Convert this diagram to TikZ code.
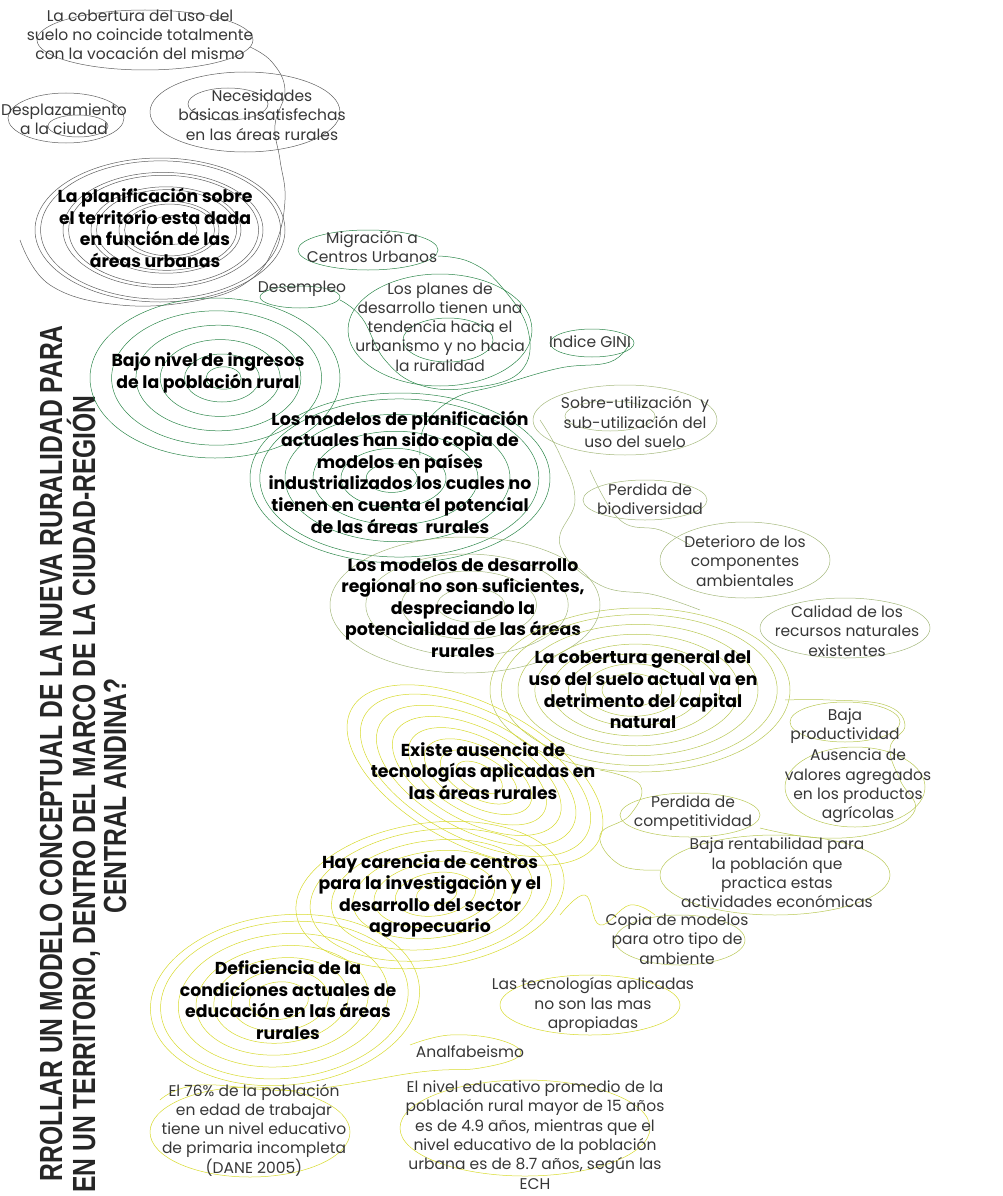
\documentclass[tikz,border=0pt]{standalone}
\usepackage{fontspec}
\setmainfont{Poppins}
\newfontfamily\titlefont[FakeStretch=0.77]{Liberation Sans}
\usetikzlibrary{positioning}
\definecolor{inkgray}{RGB}{55,55,55}
\definecolor{ringgray}{RGB}{95,95,95}
\definecolor{ringgreen}{RGB}{45,135,75}
\definecolor{ringsage}{RGB}{165,185,125}
\definecolor{ringlime}{RGB}{185,200,85}
\definecolor{ringyellow}{RGB}{215,218,45}
\tikzset{
  % ---- texts ------------------------------------------------------------
  note/.style={font=\fontsize{15.5}{19.3}\selectfont, text=inkgray,
               align=center, inner sep=0pt},
  topic/.style={font=\bfseries\fontsize{17.3}{21.6}\selectfont, text=black,
                align=center, inner sep=0pt},
  ttl/.style={font=\titlefont\bfseries\fontsize{32}{32}\selectfont,
              text=black!85, inner sep=0pt, rotate=90},
  % ---- contour lines ----------------------------------------------------
  contour/.style={line width=0.5pt},
}
% rings: [extra transform]{colour}{centre}{rx}{ry}{drift}{scales}
\newcommand{\ringset}[7][]{%
  \foreach \k in {#7} {\draw[contour, #2, shift={(#3)}, #1]
    ({(1-\k)*#6},0) ellipse ({#4*\k} and {#5*\k});}}

\begin{document}
\begin{tikzpicture}[x=1pt,y=-1pt]
\useasboundingbox (0,0) rectangle (1002,1196);

% ============================ title ========================================
\node[ttl, anchor=base east] (ttlA) at (62,325)
  {RROLLAR UN MODELO CONCEPTUAL DE LA NUEVA RURALIDAD PARA};
\node[ttl, anchor=base east] (ttlB) at (95,395)
  {EN UN TERRITORIO, DENTRO DEL MARCO DE LA CIUDAD-REGIÓN};
\node[ttl, anchor=base] (ttlC) at (126,796) {CENTRAL ANDINA?};

% ============================ grey zone ====================================
\draw[contour, ringgray] (145,40) ellipse (108 and 30);
\draw[contour, ringgray] plot[smooth, tension=0.7] coordinates
  {(250,47) (272,62) (285,90) (275,125) (280,160) (285,200) (275,245)
   (250,280) (200,300) (120,305) (50,285) (20,240)};
\draw[contour, ringgray] (66,118) ellipse (58 and 25);
\draw[contour, ringgray] (78,126) ellipse (30 and 11);
\draw[contour, ringgray] (245,112) ellipse (95 and 40);
\draw[contour, ringgray] (228,104) ellipse (40 and 16);
\ringset{ringgray}{160,230}{125}{72}{15}{1,0.96,0.8,0.76,0.6,0.56,0.4,0.36,0.2}

\node[note] (cobertura) at (140,35)
  {La cobertura del uso del\\ suelo no coincide totalmente\\ con la vocación del mismo};
\node[note] (desplaza) at (64,119) {Desplazamiento\\ a la ciudad};
\node[note] (necesidades) at (262,115)
  {Necesidades\\ básicas insatisfechas\\ en las áreas rurales};
\node[topic] (planifica) at (155,228)
  {La planificación sobre\\ el territorio esta dada\\ en función de las\\ áreas urbanas};

% ============================ green zone ===================================
\draw[contour, ringgreen] (368,250) ellipse (70 and 20);
\draw[contour, ringgreen] plot[smooth, tension=0.7] coordinates
  {(438,256) (470,262) (500,285) (528,330) (520,372) (470,388) (420,385)
   (385,360) (362,318) (340,300)};
\draw[contour, ringgreen] (300,297) ellipse (40 and 11);
\draw[contour, ringgreen] (440,330) ellipse (92 and 56);
\draw[contour, ringgreen] (448,340) ellipse (45 and 22);
\draw[contour, ringgreen] (592,343) ellipse (42 and 14);
\draw[contour, ringgreen] plot[smooth, tension=0.7] coordinates
  {(630,343) (610,362) (560,368) (500,385) (455,398) (425,425) (420,455)};
\ringset{ringgreen}{215,378}{125}{80}{10}{1,0.84,0.66,0.48,0.3,0.14}
\ringset{ringgreen}{400,478}{150}{85}{-10}{1,0.93,0.75,0.55,0.35,0.17}

\node[note] (migracion) at (372,247) {Migración a\\ Centros Urbanos};
\node[note] (desempleo) at (302,289) {Desempleo};
\node[note] (planes) at (440,327)
  {Los planes de\\ desarrollo tienen una\\ tendencia hacia el\\ urbanismo y no hacia\\ la ruralidad};
\node[note] (gini) at (590,342) {Indice GINI};
\node[topic] (ingresos) at (208,373)
  {Bajo nivel de ingresos\\ de la población rural};
\node[topic] (modelosplan) at (400,472)
  {Los modelos de planificación\\ actuales han sido copia de\\ modelos en países\\
   industrializados los cuales no\\ tienen en cuenta el potencial\\ de las áreas~ rurales};

% ============================ sage zone ====================================
\draw[contour, ringsage] (625,420) ellipse (92 and 35);
\draw[contour, ringsage] (610,416) ellipse (45 and 15);
\draw[contour, ringsage] (645,500) ellipse (62 and 20);
\draw[contour, ringsage] (745,560) ellipse (85 and 38);
\draw[contour, ringsage] (845,628) ellipse (85 and 30);
\draw[contour, ringsage] plot[smooth, tension=0.7] coordinates
  {(540,420) (560,455) (575,500) (560,545) (600,585) (655,595) (700,610)};
\draw[contour, ringsage] plot[smooth, tension=0.7] coordinates
  {(590,470) (620,520) (660,530) (690,545)};
\ringset{ringsage}{465,605}{135}{68}{8}{1,0.75,0.5,0.25}

\node[note] (sobreuso) at (635,422)
  {Sobre-utilización~ y\\ sub-utilización del\\ uso del suelo};
\node[note] (biodiv) at (650,499) {Perdida de\\ biodiversidad};
\node[note] (deterioro) at (745,561) {Deterioro de los\\ componentes\\ ambientales};
\node[note] (calidad) at (847,631) {Calidad de los\\ recursos naturales\\ existentes};
\node[topic] (modelosreg) at (463,608)
  {Los modelos de desarrollo\\ regional no son suficientes,\\ despreciando la\\
   potencialidad de las áreas\\ rurales};

% ============================ lime zone ====================================
\ringset{ringlime}{640,690}{150}{82}{-10}{1,0.92,0.8,0.68,0.56,0.44,0.32,0.2}
\draw[contour, ringlime] (845,722) ellipse (55 and 20);
\draw[contour, ringlime] (855,787) ellipse (70 and 40);
\draw[contour, ringlime] (690,815) ellipse (70 and 22);
\draw[contour, ringlime] (775,875) ellipse (115 and 40);
\draw[contour, ringlime] (680,940) ellipse (65 and 25);
\draw[contour, ringlime] plot[smooth, tension=0.7] coordinates
  {(785,700) (830,700) (885,705) (905,725) (890,748) (900,780) (915,810)
   (880,832) (820,838) (760,828)};
\draw[contour, ringlime] plot[smooth, tension=0.7] coordinates
  {(600,770) (640,785) (630,815) (600,835) (620,865) (660,870)};

\node[topic] (coberturagen) at (643,690)
  {La cobertura general del\\ uso del suelo actual va en\\ detrimento del capital\\ natural};
\node[note] (productividad) at (845,726) {Baja\\ productividad};
\node[note] (valores) at (858,786)
  {Ausencia de\\ valores agregados\\ en los productos\\ agrícolas};
\node[note] (competitividad) at (693,813) {Perdida de\\ competitividad};
\node[note] (rentabilidad) at (777,873)
  {Baja rentabilidad para\\ la población que\\ practica estas\\ actividades económicas};
\node[note] (copia) at (677,939) {Copia de modelos\\ para otro tipo de\\ ambiente};

% ============================ yellow zone ==================================
\ringset[rotate=-28]{ringyellow}{475,775}{140}{70}{6}{1,0.9,0.78,0.66,0.54,0.42,0.3,0.18}
\ringset[rotate=8]{ringyellow}{430,895}{135}{72}{8}{1,0.9,0.75,0.6,0.45,0.3,0.15}
\ringset[rotate=6]{ringyellow}{285,1000}{135}{85}{-8}{1,0.92,0.78,0.64,0.5,0.36,0.22}
\draw[contour, ringyellow] (590,1005) ellipse (90 and 30);
\draw[contour, ringyellow] (250,1132) ellipse (100 and 45);
\draw[contour, ringyellow] (525,1128) ellipse (125 and 48);
\draw[contour, ringyellow] plot[smooth, tension=0.7] coordinates
  {(560,915) (585,895) (600,925) (630,905) (655,915)};
\draw[contour, ringyellow] plot[smooth, tension=0.7] coordinates
  {(410,1045) (450,1035) (500,1040) (520,1055) (480,1068) (420,1072)
   (300,1090) (200,1085) (160,1100)};

\node[topic] (ausenciatec) at (483,771)
  {Existe ausencia de\\ tecnologías aplicadas en\\ las áreas rurales};
\node[topic] (centros) at (430,896)
  {Hay carencia de centros\\ para la investigación y el\\ desarrollo del sector\\ agropecuario};
\node[note] (tecnologias) at (593,1005)
  {Las tecnologías aplicadas\\ no son las mas\\ apropiadas};
\node[topic] (deficiencia) at (288,1000)
  {Deficiencia de la\\ condiciones actuales de\\ educación en las áreas\\ rurales};
\node[note] (analfa) at (470,1052) {Analfabeismo};
\node[note] (dane) at (254,1130)
  {El 76\% de la población\\ en edad de trabajar\\ tiene un nivel educativo\\
   de primaria incompleta\\ (DANE 2005)};
\node[note] (promedio) at (535,1135)
  {El nivel educativo promedio de la\\ población rural mayor de 15 años\\
   es de 4.9 años, mientras que el\\ nivel educativo de la población\\
   urbana es de 8.7 años, según las\\ ECH};

\end{tikzpicture}
\end{document}
